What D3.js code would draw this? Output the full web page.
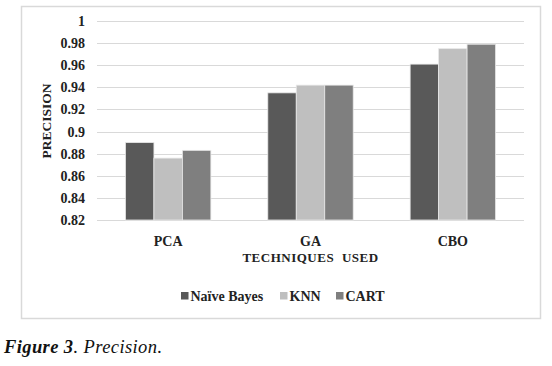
<!DOCTYPE html>
<html>
<head>
<meta charset="utf-8">
<script src="https://cdn.jsdelivr.net/npm/d3@7"></script>
<style>
  body { margin: 0; background: #fff; }
  svg text { font-family: "Liberation Serif", "Times New Roman", Times, "DejaVu Serif", serif; }
</style>
</head>
<body>
<div id="chart"></div>
<script>
// data
const techniques = ['PCA', 'GA', 'CBO'];
const classifiers = ['Naïve Bayes', 'KNN', 'CART'];
const naiveBayes = [0.890, 0.935, 0.961];
const knn = [0.876, 0.942, 0.975];
const cart = [0.883, 0.942, 0.979];
const yTicks = [0.82, 0.84, 0.86, 0.88, 0.9, 0.92, 0.94, 0.96, 0.98, 1];
const colors = ['#595959', '#bfbfbf', '#7f7f7f'];

const series = [naiveBayes, knn, cart];

const svgWidth = 552, svgHeight = 366;
const margin = { top: 21, left: 97, right: 28, bottom: 146 };
const width = svgWidth - margin.left - margin.right;
const height = svgHeight - margin.top - margin.bottom;

const svg = d3.select('#chart').append('svg')
  .attr('width', svgWidth)
  .attr('height', svgHeight);

// chart frame
svg.append('rect')
  .attr('x', 21.5).attr('y', 6.5)
  .attr('width', 519).attr('height', 312)
  .attr('fill', '#fff')
  .attr('stroke', '#d9d9d9')
  .attr('stroke-width', 1.5);

const g = svg.append('g')
  .attr('transform', 'translate(' + margin.left + ',' + margin.top + ')');

const x0 = d3.scaleBand().domain(techniques).range([0, width]).paddingInner(0.4).paddingOuter(0.2);
const x1 = d3.scaleBand().domain(classifiers).range([0, x0.bandwidth()]);
const y = d3.scaleLinear().domain([0.82, 1]).range([height, 0]);

// gridlines
g.append('g')
  .selectAll('line')
  .data(yTicks)
  .enter()
  .append('line')
  .attr('x1', 0).attr('x2', width)
  .attr('y1', d => Math.round(y(d)) + 0.5)
  .attr('y2', d => Math.round(y(d)) + 0.5)
  .attr('stroke', '#d9d9d9')
  .attr('stroke-width', 1.2);

// y axis labels
const yAxis = d3.axisLeft(y).tickValues(yTicks).tickSize(0).tickPadding(12)
  .tickFormat(d => d3.format('')(+d.toFixed(2)));
g.append('g')
  .call(yAxis)
  .call(a => a.select('.domain').remove())
  .selectAll('text')
  .attr('font-size', 14)
  .attr('font-weight', 'bold')
  .attr('fill', '#222');

// bars
const groups = g.selectAll('.group')
  .data(techniques)
  .enter()
  .append('g')
  .attr('class', 'group')
  .attr('transform', d => 'translate(' + x0(d) + ',0)');

groups.selectAll('rect')
  .data((d, i) => classifiers.map((c, j) => ({ c, j, v: series[j][i] })))
  .enter()
  .append('rect')
  .attr('x', d => x1(d.c))
  .attr('y', d => y(d.v))
  .attr('width', x1.bandwidth())
  .attr('height', d => height - y(d.v))
  .attr('fill', d => colors[d.j])
  .attr('stroke', '#e8e8e8')
  .attr('stroke-width', 0.8);

// category labels
const xAxis = d3.axisBottom(x0).tickSize(0).tickPadding(16);
g.append('g')
  .attr('transform', 'translate(0,' + height + ')')
  .call(xAxis)
  .call(a => a.select('.domain').remove())
  .selectAll('text')
  .attr('font-size', 14)
  .attr('font-weight', 'bold')
  .attr('fill', '#222');

// axis titles
svg.append('text')
  .attr('x', margin.left + width / 2)
  .attr('y', 262)
  .attr('text-anchor', 'middle')
  .attr('font-size', 13)
  .attr('font-weight', 'bold')
  .attr('letter-spacing', 0.5)
  .attr('word-spacing', 4)
  .attr('fill', '#222')
  .text('TECHNIQUES USED');

svg.append('text')
  .attr('transform', 'translate(51,121) rotate(-90)')
  .attr('text-anchor', 'middle')
  .attr('font-size', 13.5)
  .attr('font-weight', 'bold')
  .attr('fill', '#222')
  .text('PRECISION');

// legend
const legendX = [181, 280, 336];
const legend = svg.selectAll('.legend')
  .data(classifiers)
  .enter()
  .append('g')
  .attr('class', 'legend')
  .attr('transform', (d, i) => 'translate(' + legendX[i] + ',292)');
legend.append('rect')
  .attr('width', 7.5).attr('height', 7.5)
  .attr('fill', (d, i) => colors[i]);
legend.append('text')
  .attr('x', 9.5).attr('y', 9)
  .attr('font-size', 14)
  .attr('font-weight', 'bold')
  .attr('fill', '#222')
  .text(d => d);

// caption
const cap = svg.append('text')
  .attr('x', 4).attr('y', 353)
  .attr('font-size', 18.5)
  .attr('letter-spacing', 0.4)
  .attr('font-style', 'italic')
  .attr('fill', '#111');
cap.append('tspan').attr('font-weight', 'bold').text('Figure 3');
cap.append('tspan').text('. Precision.');
</script>
</body>
</html>
